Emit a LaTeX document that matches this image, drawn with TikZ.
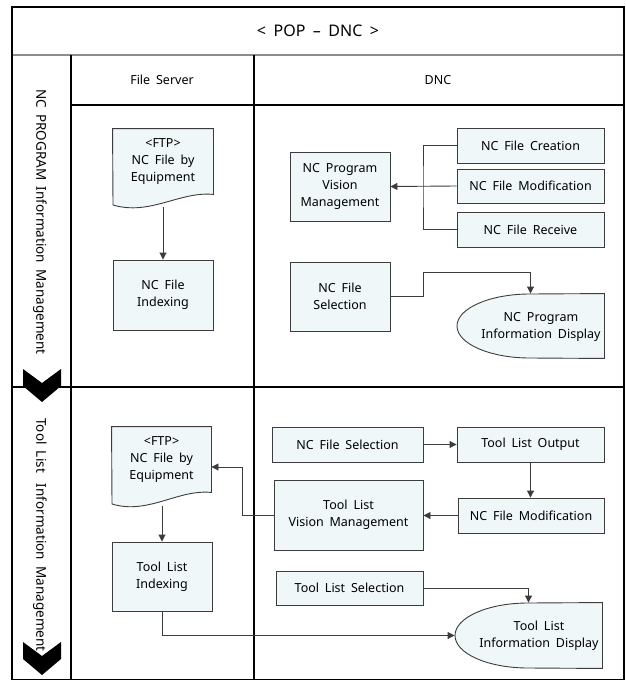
\documentclass[tikz,border=0pt]{standalone}
\usepackage{fontspec}
\setmainfont{Noto Sans}[WordSpace=1.8]
\usetikzlibrary{arrows.meta}
\definecolor{boxfill}{RGB}{240,247,248}
\definecolor{boxline}{RGB}{60,60,60}
\definecolor{gridgray}{RGB}{140,140,140}
\tikzset{
  frame/.style={line width=1.3pt, black},
  thinframe/.style={line width=1.2pt, gridgray},
  procbox/.style={draw=boxline, fill=boxfill, line width=0.9pt, rectangle,
    inner sep=0pt, align=center, font=\fontsize{12.5}{17}\selectfont},
  docbox/.style={procbox, draw=none, fill=none},
  docedge/.style={draw=boxline, fill=boxfill, line width=0.9pt},
  conn/.style={draw=boxline, line width=0.9pt},
  arr/.style={conn, -{Triangle[length=7pt,width=7pt]}},
  chevron/.style={fill=black, draw=none},
  lanelabel/.style={rotate=-90, font=\fontsize{13.5}{16}\selectfont},
  headtext/.style={font=\fontsize{12.5}{15}\selectfont},
}
\begin{document}
\begin{tikzpicture}[x=1pt, y=-1pt]
\useasboundingbox (0,0) rectangle (625,680);

% ---------- swimlane grid ----------
\draw[thinframe] (12,55) -- (624,55);
\draw[frame] (12,7) rectangle (624,680);
\draw[frame] (71,55) -- (71,680);
\draw[frame] (254,55) -- (254,680);
\draw[frame] (71,105) -- (624,105);
\draw[frame] (12,387) -- (624,387);

\node[font=\fontsize{16}{19}\selectfont] (title) at (318,31) {< POP – DNC >};
\node[headtext] (hfs) at (162,80) {File Server};
\node[headtext] (hdnc) at (438,80) {DNC};

\node[lanelabel] (lane1) at (40,222) {NC PROGRAM Information Management};
\node[lanelabel] (lane2) at (40,535) {Tool List\hspace{0.35em} Information Management};

% lane chevrons
\fill[chevron] (23,369) -- (42,383) -- (61,369) -- (61,386) -- (42,402) -- (23,386) -- cycle;
\fill[chevron] (23,642) -- (42,656) -- (61,642) -- (61,659) -- (42,675) -- (23,659) -- cycle;

% ---------- lane 1 : NC program ----------
\node[docbox, minimum width=100pt, minimum height=65pt] (doc1) at (163,161.5) {};
\draw[docedge] (doc1.north west) -- (doc1.north east) -- (doc1.south east)
  .. controls (180,191) and (150,216) .. (113,205) -- cycle;
\node[docbox, minimum width=100pt, minimum height=65pt] at (doc1.center) {<FTP>\\NC File by\\Equipment};
\coordinate (doc1w) at (163,207);

\node[procbox, minimum width=100pt, minimum height=70pt] (idx1) at (163,295) {NC File\\Indexing};
\draw[arr] (doc1w) -- (idx1.north);

\node[procbox, minimum width=100pt, minimum height=69pt] (vis1) at (340,186.5) {NC Program\\Vision\\Management};
\node[procbox, minimum width=147pt, minimum height=35pt] (cre1) at (530.5,145.5) {NC File Creation};
\node[procbox, minimum width=147pt, minimum height=34pt] (mod1) at (530.5,186) {NC File Modification};
\node[procbox, minimum width=147pt, minimum height=35pt] (rec1) at (530.5,229.5) {NC File Receive};

\coordinate (bus1) at (423,186);
\draw[conn] (cre1.west) -| (bus1) |- (rec1.west);
\draw[arr] (mod1.west) -- (vis1.east);

\node[procbox, minimum width=100pt, minimum height=69pt] (sel1) at (340,296.5) {NC File\\Selection};
\node[docbox, minimum width=147pt, minimum height=64pt] (disp1) at (530.5,326) {};
\draw[docedge] (disp1.north east) -- (530,294) arc[start angle=270, end angle=90, x radius=73, y radius=32]
  -- (disp1.south east) -- cycle;
\node[font=\fontsize{12.5}{17}\selectfont, align=center] (disp1t) at (541,327) {NC Program\\Information Display};

\coordinate (k1) at (423,272);
\draw[arr] (sel1.east) -| (k1) -| (disp1.north);

% ---------- lane 2 : tool list ----------
\node[docbox, minimum width=99pt, minimum height=65pt] (doc2) at (161.5,459.5) {};
\draw[docedge] (doc2.north west) -- (doc2.north east) -- (doc2.south east)
  .. controls (178,489) and (148,515) .. (112,504) -- cycle;
\node[docbox, minimum width=99pt, minimum height=65pt] at (doc2.center) {<FTP>\\NC File by\\Equipment};
\coordinate (doc2w) at (162,506);

\node[procbox, minimum width=100pt, minimum height=69pt] (idx2) at (162,576.5) {Tool List\\Indexing};
\draw[arr] (doc2w) -- (idx2.north);

\node[procbox, minimum width=151pt, minimum height=35pt] (ncsel2) at (347.5,444.5) {NC File Selection};
\node[procbox, minimum width=147pt, minimum height=35pt] (out2) at (530.5,444.5) {Tool List Output};
\node[procbox, minimum width=149pt, minimum height=70pt] (vis2) at (348.5,515) {Tool List\\Vision Management};
\node[procbox, minimum width=146pt, minimum height=35pt] (mod2) at (531,515.5) {NC File Modification};
\node[procbox, minimum width=147pt, minimum height=34pt] (tsel2) at (349.5,588) {Tool List Selection};

\node[docbox, minimum width=147pt, minimum height=65pt] (disp2) at (528.5,635.5) {};
\draw[docedge] (disp2.north east) -- (528,603) arc[start angle=270, end angle=90, x radius=73, y radius=32.5]
  -- (disp2.south east) -- cycle;
\node[font=\fontsize{12.5}{17}\selectfont, align=center] (disp2t) at (539,636) {Tool List\\Information Display};

\draw[arr] (ncsel2.east) -- (out2.west);
\draw[arr] (out2.south) -- (out2.south |- mod2.north);
\draw[arr] (mod2.west) -- (mod2.west -| vis2.east);

\coordinate (k2) at (242,467);
\draw[arr] (vis2.west) -| (k2) -- (k2 -| doc2.east);
\draw[arr] (idx2.south) |- (disp2.west);
\draw[arr] (tsel2.east) -| (disp2.north);
\end{tikzpicture}
\end{document}
